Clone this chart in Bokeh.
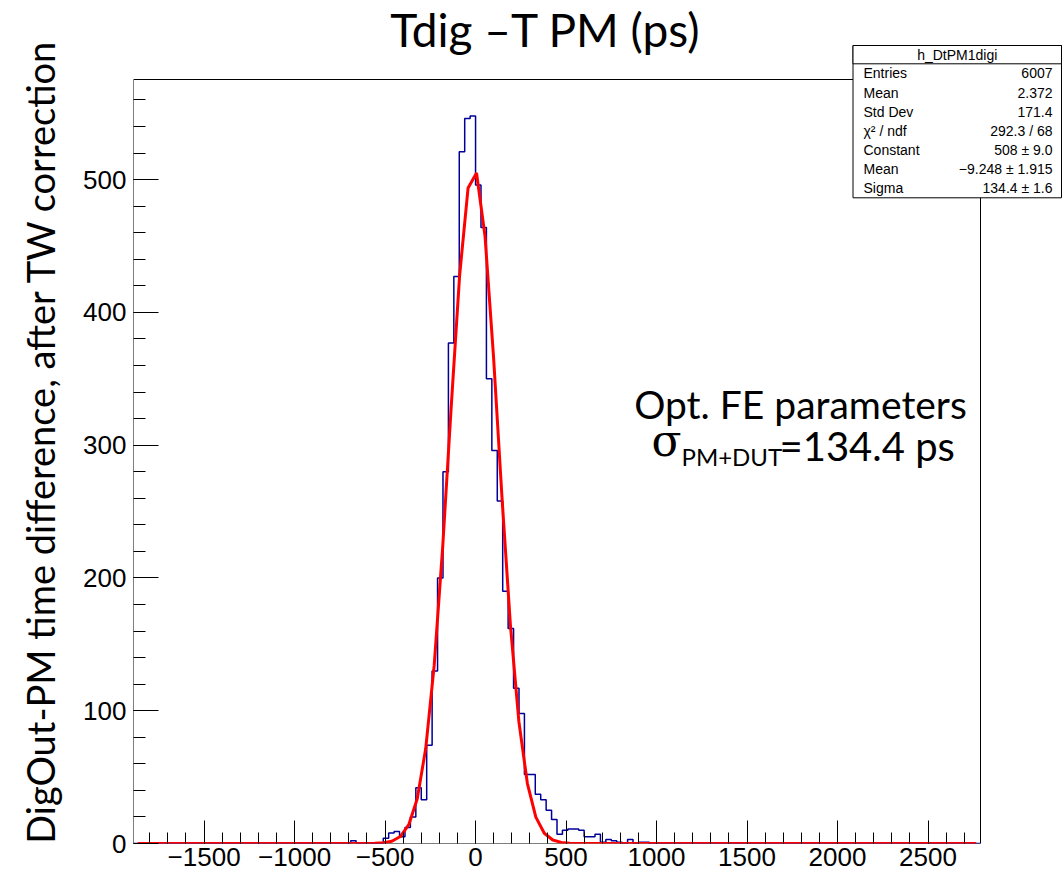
import numpy as np
from bokeh.plotting import figure
from bokeh.models import Label, BoxAnnotation, FixedTicker, Range1d
from bokeh.embed import file_html
from bokeh.resources import INLINE

# ---------------- data ----------------
hist_xmin = -1890
hist_xmax = 2790
bin_width = 30
counts_start = -690
counts = [2, 0, 0, 0, 0, 0, 4, 8, 9, 5,
          12, 20, 42, 33, 74, 130, 200, 280, 377, 427,
          521, 546, 548, 496, 464, 350, 296, 258, 190, 162,
          117, 98, 52, 52, 37, 33, 25, 18, 7, 10,
          11, 11, 10, 5, 5, 7, 1, 3, 2, 1,
          0, 3, 0, 1, 1]

fit_constant = 508.0
fit_mean = -9.248
fit_sigma = 134.4
fit_npx = 100

stats_title = "h_DtPM1digi"
stats_names = ["Entries", "Mean", "Std Dev", "\u03c7\u00b2 / ndf", "Constant", "Mean", "Sigma"]
stats_values = ["6007", "2.372", "171.4", "292.3 / 68", "508 \u00b1 9.0",
                "\u22129.248 \u00b1 1.915", "134.4 \u00b1 1.6"]

x_ticks = [-1500, -1000, -500, 0, 500, 1000, 1500, 2000, 2500]
x_tick_labels = ["\u22121500", "\u22121000", "\u2212500", "0", "500", "1000", "1500", "2000", "2500"]
x_minor_ticks = list(range(-1800, 2701, 100))
y_ticks = [0, 100, 200, 300, 400, 500]
y_tick_labels = ["0", "100", "200", "300", "400", "500"]
y_minor_ticks = list(range(0, 561, 20))

title_text = "Tdig \u2013T PM (ps)"
ylabel_text = "DigOut-PM time difference, after TW correction"
note1_text = "Opt. FE parameters"
note2_sigma = "\u03c3"
note2_sub = "PM+DUT"
note2_rest = "=134.4 ps"

# ---------------- derived ----------------
nbins = (hist_xmax - hist_xmin) // bin_width
full = np.zeros(nbins)
off = (counts_start - hist_xmin) // bin_width
full[off:off + len(counts)] = counts
edges = hist_xmin + bin_width * np.arange(nbins + 1)
step_y = np.append(full, full[-1])
y_max = 1.05 * max(counts)

dxf = (hist_xmax - hist_xmin) / fit_npx
fx_pts = hist_xmin + (np.arange(fit_npx) + 0.5) * dxf
fy_pts = fit_constant * np.exp(-0.5 * ((fx_pts - fit_mean) / fit_sigma) ** 2)

# ---------------- geometry (pixels) ----------------
W, H = 1064, 881
FL, FR, FT, FB = 133, 980, 79, 843   # ROOT frame edges in pixels


def px2x(px):
    return hist_xmin + (px - FL) / (FR - FL) * (hist_xmax - hist_xmin)


def py2y(py):
    return (FB - py) / (FB - FT) * y_max


# Bokeh frame covers the whole area right of / above the axes, so that
# the title and statistics box (drawn as annotations) are not clipped.
p = figure(width=W, height=H, output_backend="svg", toolbar_location=None,
           x_range=Range1d(hist_xmin, px2x(W)), y_range=Range1d(0, py2y(0)),
           min_border_left=FL, min_border_right=0,
           min_border_top=0, min_border_bottom=H - FB)
p.xgrid.visible = False
p.ygrid.visible = False
p.outline_line_color = None
p.background_fill_color = "white"
p.border_fill_color = "white"

p.xaxis.ticker = FixedTicker(ticks=x_ticks, minor_ticks=x_minor_ticks)
p.xaxis.major_label_overrides = {t: l for t, l in zip(x_ticks, x_tick_labels)}
p.yaxis.ticker = FixedTicker(ticks=y_ticks, minor_ticks=y_minor_ticks)
p.yaxis.major_label_overrides = {t: l for t, l in zip(y_ticks, y_tick_labels)}
for ax, mj, mn in ((p.xaxis, 23, 11), (p.yaxis, 25, 12)):
    ax.major_tick_in = mj
    ax.major_tick_out = 0
    ax.minor_tick_in = mn
    ax.minor_tick_out = 0
    ax.major_tick_line_color = "black"
    ax.minor_tick_line_color = "black"
    ax.axis_line_color = None
    ax.major_label_text_font = "Liberation Sans"
    ax.major_label_text_font_size = "26px"
    ax.major_label_text_color = "black"
p.xaxis.major_label_standoff = 4
p.yaxis.major_label_standoff = 7

# y axis title (padded with trailing no-break spaces to sit lower, as in the reference)
p.yaxis.axis_label = ylabel_text + "\u00a0" * 4
p.yaxis.axis_label_text_font = "Lato"
p.yaxis.axis_label_text_font_size = "38px"
p.yaxis.axis_label_text_font_style = "normal"
p.yaxis.axis_label_text_color = "black"
p.yaxis.axis_label_standoff = 17

# ROOT frame
p.line([hist_xmin, hist_xmax, hist_xmax, hist_xmin, hist_xmin],
       [0, 0, y_max, y_max, 0], line_color="black", line_width=1)

# histogram and fit
p.step(edges, step_y, mode="after", line_color="#000099", line_width=1.5)
p.line(fx_pts, fy_pts, line_color="#ff0000", line_width=3)

cal = "Lato"
p.add_layout(Label(x=px2x(545), y=py2y(29), text=title_text, text_align="center",
                   text_baseline="middle", text_font=cal, text_font_size="46px",
                   text_color="black"))
p.add_layout(Label(x=px2x(800), y=py2y(403), text=note1_text, text_align="center",
                   text_baseline="middle", text_font=cal, text_font_size="39px",
                   text_color="black"))
p.add_layout(Label(x=px2x(651), y=py2y(440), text=note2_sigma, text_align="left",
                   text_baseline="middle", text_font="DejaVu Serif", text_font_size="44px",
                   text_color="black"))
p.add_layout(Label(x=px2x(681), y=py2y(456), text=note2_sub, text_align="left",
                   text_baseline="middle", text_font=cal, text_font_size="24px",
                   text_color="black"))
p.add_layout(Label(x=px2x(779), y=py2y(445), text=note2_rest, text_align="left",
                   text_baseline="middle", text_font=cal, text_font_size="40px",
                   text_color="black"))

# statistics box
bl, br, bt, bh, bb = 852.5, 1061, 45, 63.3, 197.3
p.add_layout(BoxAnnotation(left=px2x(bl), right=px2x(br), top=py2y(bt), bottom=py2y(bb),
                           fill_color="white", fill_alpha=1, line_color="black",
                           line_width=1, line_alpha=1, level="overlay"))
p.add_layout(BoxAnnotation(left=px2x(bl), right=px2x(br), top=py2y(bt), bottom=py2y(bh),
                           fill_color="white", fill_alpha=1, line_color="black",
                           line_width=1, line_alpha=1, level="overlay"))
sfont = "Liberation Sans"
p.add_layout(Label(x=px2x((bl + br) / 2), y=py2y((bt + bh) / 2), text=stats_title,
                   text_align="center", text_baseline="middle", text_font=sfont,
                   text_font_size="14px", text_color="black", level="overlay"))
row_h = (bb - bh) / len(stats_names)
for i, (n, v) in enumerate(zip(stats_names, stats_values)):
    yy = py2y(bh + row_h * (i + 0.5))
    p.add_layout(Label(x=px2x(863), y=yy, text=n, text_align="left", text_baseline="middle",
                       text_font=sfont, text_font_size="14px", text_color="black",
                       level="overlay"))
    p.add_layout(Label(x=px2x(br - 9), y=yy, text=v, text_align="right", text_baseline="middle",
                       text_font=sfont, text_font_size="14px", text_color="black",
                       level="overlay"))

open("out.html", "w").write(file_html(p, INLINE))
